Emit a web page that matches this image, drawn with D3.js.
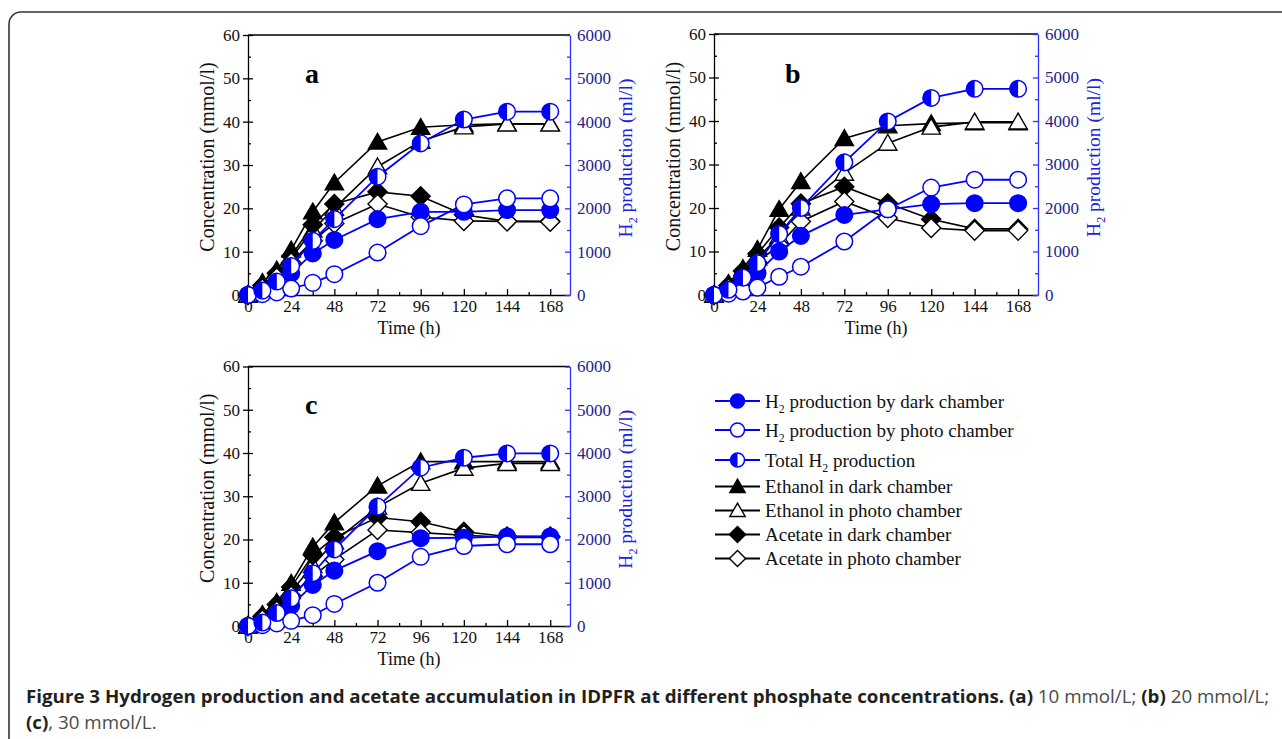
<!DOCTYPE html>
<html>
<head>
<meta charset="utf-8">
<script src="https://cdn.jsdelivr.net/npm/d3@7"></script>
<style>
  html, body { margin: 0; padding: 0; background: #fff; }
  svg text { font-family: "Liberation Serif", "Times New Roman", serif; }
</style>
</head>
<body>
<div id="chart"></div>
<script>
/* Figure 3: H2 production and ethanol / acetate accumulation, three phosphate levels */

// sampling times (h)
const times = [0, 8, 16, 24, 36, 48, 72, 96, 120, 144, 168];

// panel a - 10 mmol/L
const aEthDark  = [0, 2.9, 5.8, 10.4, 19.2, 25.9, 35.3, 38.7, 39.3, 39.5, 39.5];
const aEthPhoto = [0, 2.0, 4.5, 8.5, 15.0, 20.0, 29.6, 35.5, 38.8, 39.5, 39.5];
const aAceDark  = [0, 2.2, 5.0, 9.0, 16.2, 21.0, 23.8, 22.8, 18.5, 17.0, 17.0];
const aAcePhoto = [0, 1.5, 4.0, 7.5, 12.5, 16.5, 21.0, 18.0, 17.1, 17.0, 16.9];
const aH2Dark   = [0, 60, 250, 500, 960, 1270, 1750, 1920, 1920, 1960, 1960];
const aH2Photo  = [0, 20, 60, 150, 280, 480, 980, 1590, 2090, 2230, 2230];
const aH2Total  = [0, 100, 310, 670, 1250, 1750, 2730, 3500, 4050, 4230, 4230];

// panel b - 20 mmol/L
const bEthDark  = [0, 2.7, 6.1, 10.5, 19.7, 26.1, 36.0, 38.9, 39.4, 39.6, 39.6];
const bEthPhoto = [0, 2.0, 5.0, 8.5, 13.5, 20.0, 28.0, 34.9, 38.6, 39.8, 39.8];
const bAceDark  = [0, 2.2, 5.5, 9.5, 15.5, 21.0, 24.9, 21.1, 17.4, 15.2, 15.2];
const bAcePhoto = [0, 1.5, 4.0, 7.5, 11.5, 16.9, 21.5, 17.7, 15.4, 14.8, 14.8];
const bH2Dark   = [0, 80, 280, 500, 1000, 1360, 1840, 1970, 2090, 2110, 2110];
const bH2Photo  = [0, 30, 80, 170, 420, 650, 1230, 1970, 2470, 2650, 2650];
const bH2Total  = [0, 120, 400, 730, 1400, 2000, 3050, 3990, 4530, 4740, 4740];

// panel c - 30 mmol/L
const cEthDark  = [0, 2.7, 5.5, 9.9, 18.3, 23.9, 32.4, 38.0, 38.0, 38.0, 38.0];
const cEthPhoto = [0, 1.8, 4.5, 8.0, 14.0, 19.5, 27.5, 33.0, 36.5, 37.6, 37.6];
const cAceDark  = [0, 2.2, 5.0, 9.0, 16.4, 20.5, 25.1, 24.1, 21.8, 20.7, 20.7];
const cAcePhoto = [0, 1.5, 3.5, 7.0, 11.5, 15.4, 22.2, 21.6, 21.0, 20.5, 20.5];
const cH2Dark   = [0, 60, 260, 470, 950, 1280, 1730, 2030, 2040, 2070, 2070];
const cH2Photo  = [0, 20, 60, 120, 250, 510, 1000, 1600, 1850, 1890, 1890];
const cH2Total  = [0, 80, 300, 640, 1220, 1770, 2760, 3660, 3890, 3990, 3990];

// axes
const xTicks = [0, 24, 48, 72, 96, 120, 144, 168];
const xMinor = [12, 36, 60, 84, 108, 132, 156];
const concTicks = [0, 10, 20, 30, 40, 50, 60];
const concMinor = [5, 15, 25, 35, 45, 55];
const h2Ticks = [0, 1000, 2000, 3000, 4000, 5000, 6000];
const h2Minor = [500, 1500, 2500, 3500, 4500, 5500];

// legend
const seriesNames = [
    "H_2 production by dark chamber",
    "H_2 production by photo chamber",
    "Total H_2 production",
    "Ethanol in dark chamber",
    "Ethanol in photo chamber",
    "Acetate in dark chamber",
    "Acetate in photo chamber"
];

const width = 1282, height = 739;
const BLUE = "#0000ff";

const svg = d3.select("#chart")
    .append("svg")
    .attr("width", width)
    .attr("height", height)
    .attr("viewBox", [0, 0, width, height]);

/* rounded frame round the figure */
svg.append("rect")
    .attr("x", 9).attr("y", 12)
    .attr("width", 1300).attr("height", 800)
    .attr("rx", 12)
    .attr("fill", "none")
    .attr("stroke", "#333")
    .attr("stroke-width", 1.6);

/* marker shapes */
function drawMarker(g, type, r) {
    const tri = `M0,${-r * 1.05}L${r * 1.1},${r * 0.85}L${-r * 1.1},${r * 0.85}Z`;
    const dia = `M0,${-r * 1.15}L${r * 1.15},0L0,${r * 1.15}L${-r * 1.15},0Z`;
    if (type === "circleFull" || type === "circleOpen" || type === "circleHalf") {
        g.append("circle").attr("r", r)
            .attr("fill", type === "circleFull" ? BLUE : "#fff");
        if (type === "circleHalf") {
            g.append("path")
                .attr("d", `M0,${-r}A${r},${r} 0 0 0 0,${r}Z`)
                .attr("fill", BLUE);
        }
        g.append("circle").attr("r", r)
            .attr("fill", "none")
            .attr("stroke", BLUE)
            .attr("stroke-width", 1.5);
    } else {
        g.append("path")
            .attr("d", type.startsWith("tri") ? tri : dia)
            .attr("fill", type.endsWith("Full") ? "#000" : "#fff")
            .attr("stroke", "#000")
            .attr("stroke-width", 1.4)
            .attr("stroke-linejoin", "miter");
    }
}

/* writes "H_2 ..." with a real subscript */
function subText(text, str, size) {
    const parts = str.split("_");
    text.append("tspan").text(parts[0]);
    for (let i = 1; i < parts.length; i++) {
        text.append("tspan")
            .attr("font-size", size * 0.62)
            .attr("dy", size * 0.28)
            .text(parts[i].charAt(0));
        text.append("tspan")
            .attr("dy", -size * 0.28)
            .text(parts[i].slice(1));
    }
}

const markerTypes = ["circleFull", "circleOpen", "circleHalf", "triFull", "triOpen", "diaFull", "diaOpen"];

const panels = [
    { key: "a", left: 248, right: 570, top: 35, bottom: 295, lx: 57, ly: 48,
      h2: [aH2Dark, aH2Photo, aH2Total], conc: [aEthDark, aEthPhoto, aAceDark, aAcePhoto] },
    { key: "b", left: 714, right: 1038, top: 34, bottom: 295, lx: 71, ly: 49,
      h2: [bH2Dark, bH2Photo, bH2Total], conc: [bEthDark, bEthPhoto, bAceDark, bAcePhoto] },
    { key: "c", left: 248, right: 570, top: 366.5, bottom: 626, lx: 57, ly: 47,
      h2: [cH2Dark, cH2Photo, cH2Total], conc: [cEthDark, cEthPhoto, cAceDark, cAcePhoto] }
];

panels.forEach(p => {
    const g = svg.append("g");

    const x = d3.scaleLinear().domain([0, 179]).range([p.left, p.right]);
    const y = d3.scaleLinear().domain([0, 60]).range([p.bottom, p.top]);
    const y2 = d3.scaleLinear().domain([0, 6000]).range([p.bottom, p.top]);

    /* top border */
    g.append("line")
        .attr("x1", p.left).attr("x2", p.right)
        .attr("y1", p.top).attr("y2", p.top)
        .attr("stroke", "#000").attr("stroke-width", 1.3);

    /* x axis, ticks pointing in */
    const xa = g.append("g")
        .attr("transform", `translate(0,${p.bottom})`)
        .call(d3.axisBottom(x).tickValues(xTicks).tickSize(-6).tickSizeOuter(0).tickPadding(5));
    const xm = g.append("g")
        .attr("transform", `translate(0,${p.bottom})`)
        .call(d3.axisBottom(x).tickValues(xMinor).tickSize(-3).tickSizeOuter(0).tickFormat(""));
    xm.select(".domain").remove();

    /* left axis, major ticks cross the line */
    const ya = g.append("g")
        .attr("transform", `translate(${p.left},0)`)
        .call(d3.axisLeft(y).tickValues(concTicks).tickSize(5).tickSizeOuter(0).tickPadding(3));
    ya.selectAll(".tick").append("line").attr("x2", 5);
    const ym = g.append("g")
        .attr("transform", `translate(${p.left},0)`)
        .call(d3.axisLeft(y).tickValues(concMinor).tickSize(-3).tickSizeOuter(0).tickFormat(""));
    ym.select(".domain").remove();

    /* right axis (blue) */
    const y2a = g.append("g")
        .attr("transform", `translate(${p.right},0)`)
        .call(d3.axisRight(y2).tickValues(h2Ticks).tickFormat(d3.format("d"))
            .tickSize(-5).tickSizeOuter(0).tickPadding(7));
    const y2m = g.append("g")
        .attr("transform", `translate(${p.right},0)`)
        .call(d3.axisRight(y2).tickValues(h2Minor).tickSize(-3).tickSizeOuter(0).tickFormat(""));
    y2m.select(".domain").remove();

    [xa, xm, ya, ym].forEach(a => {
        a.selectAll("path, line").attr("stroke", "#000").attr("stroke-width", 1.3);
        a.selectAll("text").attr("fill", "#111").attr("font-size", 17);
    });
    [y2a, y2m].forEach(a => a.selectAll("path, line").attr("stroke", "#3030ff").attr("stroke-width", 1.3));
    y2a.selectAll("text").attr("fill", "#23238c").attr("font-size", 17);

    /* axis titles */
    g.append("text")
        .attr("transform", `translate(${p.left - 41},${(p.top + p.bottom) / 2 - 8}) rotate(-90)`)
        .attr("text-anchor", "middle")
        .attr("dy", "0.35em")
        .attr("font-size", 20)
        .attr("fill", "#111")
        .text("Concentration (mmol/l)");

    const rt = g.append("text")
        .attr("transform", `translate(${p.right + 55},${(p.top + p.bottom) / 2 - 7}) rotate(-90)`)
        .attr("text-anchor", "middle")
        .attr("dy", "0.35em")
        .attr("font-size", 19.5)
        .attr("fill", "#2020e0");
    subText(rt, "H_2 production (ml/l)", 19.5);

    g.append("text")
        .attr("x", (p.left + p.right) / 2)
        .attr("y", p.bottom + 39)
        .attr("text-anchor", "middle")
        .attr("font-size", 18)
        .attr("fill", "#111")
        .text("Time (h)");

    g.append("text")
        .attr("x", p.left + p.lx)
        .attr("y", p.top + p.ly)
        .attr("font-size", 28)
        .attr("font-weight", "bold")
        .attr("fill", "#000")
        .text(p.key);

    /* series: concentration (black) first, then H2 (blue) */
    const series = [
        { vals: p.conc[0], scale: y, color: "#000", marker: "triFull" },
        { vals: p.conc[1], scale: y, color: "#000", marker: "triOpen" },
        { vals: p.conc[2], scale: y, color: "#000", marker: "diaFull" },
        { vals: p.conc[3], scale: y, color: "#000", marker: "diaOpen" },
        { vals: p.h2[0], scale: y2, color: BLUE, marker: "circleFull" },
        { vals: p.h2[1], scale: y2, color: BLUE, marker: "circleOpen" },
        { vals: p.h2[2], scale: y2, color: BLUE, marker: "circleHalf" }
    ];

    const line = d3.line();
    series.forEach(s => {
        const pts = times.map((t, i) => [x(t), s.scale(s.vals[i])]);
        g.append("path")
            .attr("d", line(pts))
            .attr("fill", "none")
            .attr("stroke", s.color)
            .attr("stroke-width", s.color === BLUE ? 1.8 : 1.6);
        g.selectAll(null)
            .data(pts)
            .join("g")
            .attr("transform", d => `translate(${d[0]},${d[1]})`)
            .each(function () { drawMarker(d3.select(this), s.marker, 8.3); });
    });
});

/* legend */
const legendGaps = [0, 29, 30, 26.5, 24, 24, 24];
let ly = 401;
seriesNames.forEach((name, i) => {
    ly += legendGaps[i];
    const row = svg.append("g").attr("transform", `translate(715,${ly})`);
    const isBlue = i < 3;
    row.append("line")
        .attr("x1", 0).attr("x2", 45)
        .attr("stroke", isBlue ? BLUE : "#000")
        .attr("stroke-width", 1.8);
    drawMarker(row.append("g").attr("transform", "translate(22.5,0)"), markerTypes[i], 7);
    const t = row.append("text")
        .attr("x", 50)
        .attr("dy", "0.35em")
        .attr("font-size", 19)
        .attr("fill", "#111");
    subText(t, name, 19);
});

/* caption */
const cap = svg.append("g")
    .style("white-space", "pre");
const line1 = cap.append("text").attr("y", 703).attr("font-size", 18.5);
const line2 = cap.append("text").attr("y", 729).attr("font-size", 18.5);
[
    [line1, "Figure 3 Hydrogen production and acetate accumulation in IDPFR at different phosphate concentrations. (a)", true],
    [line1, " 10 mmol/L; ", false],
    [line1, "(b)", true],
    [line1, " 20 mmol/L;", false],
    [line2, "(c)", true],
    [line2, ", 30 mmol/L.", false]
].forEach(([t, s, bold]) => {
    t.append("tspan")
        .attr("font-weight", bold ? "bold" : "normal")
        .attr("fill", bold ? "#231f20" : "#4a4a4a")
        .style("font-family", "'Open Sans', 'Noto Sans', sans-serif")
        .text(s);
});
// squeeze the caption so that line one runs from x=26 to x=1270
const natural = line1.node().getComputedTextLength();
cap.attr("transform", `translate(26,0) scale(${1244 / natural},1)`);
</script>
</body>
</html>
